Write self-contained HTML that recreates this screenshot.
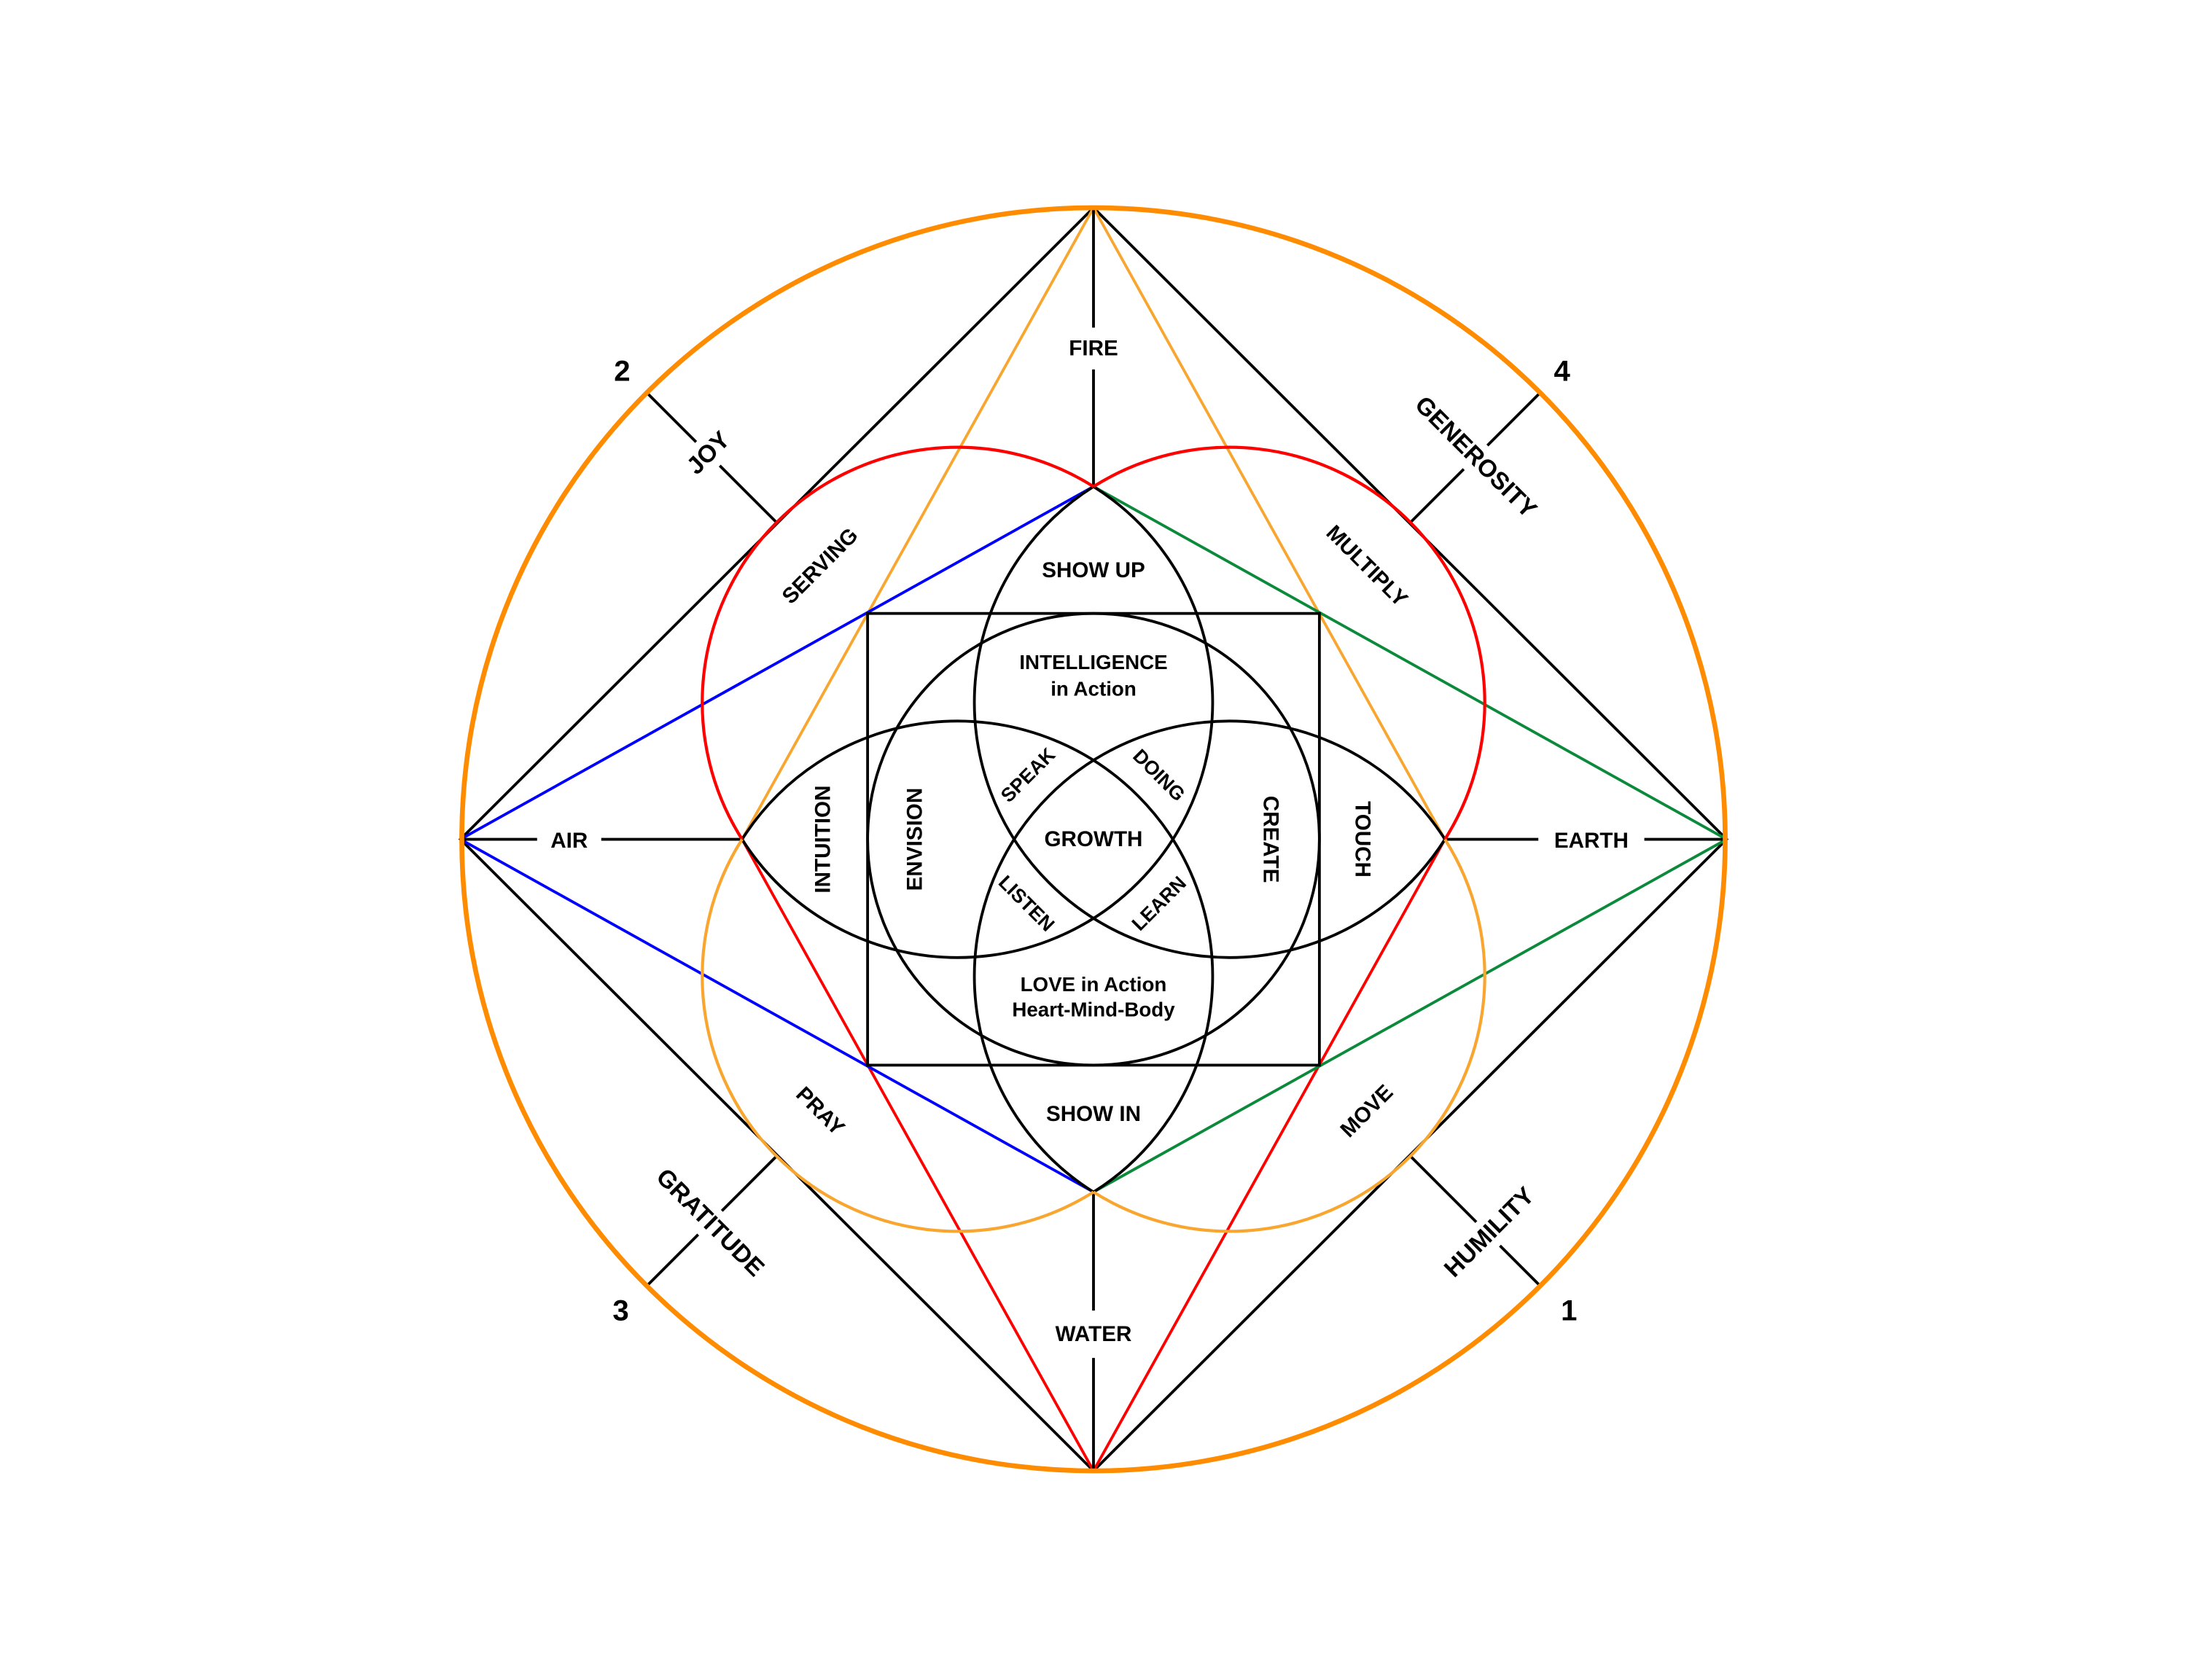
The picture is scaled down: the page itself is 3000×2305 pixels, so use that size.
<!DOCTYPE html>
<html><head><meta charset="utf-8"><style>
html,body{margin:0;padding:0;background:#fff;}
svg{display:block;}
text{font-family:"Liberation Sans",sans-serif;font-weight:bold;fill:#000;text-anchor:middle;dominant-baseline:central;}
</style></head><body>
<svg width="3000" height="2305" viewBox="0 0 1568 1205" xmlns="http://www.w3.org/2000/svg">
<rect width="1568" height="1205" fill="#fff"/>
<g fill="none" stroke-width="2">
<polygon points="784,149 1238,602 784,1055 330,602" stroke="#000"/>
<line x1="784" y1="149" x2="532" y2="602" stroke="#F9A630"/>
<line x1="784" y1="149" x2="1036" y2="602" stroke="#F9A630"/>
<line x1="784" y1="1055" x2="532" y2="602" stroke="#F00"/>
<line x1="784" y1="1055" x2="1036" y2="602" stroke="#F00"/>
<line x1="330" y1="602" x2="784" y2="349" stroke="#00F"/>
<line x1="330" y1="602" x2="784" y2="855" stroke="#00F"/>
<line x1="1238" y1="602" x2="784" y2="349" stroke="#0A8A3A"/>
<line x1="1238" y1="602" x2="784" y2="855" stroke="#0A8A3A"/>
<line x1="784" y1="149" x2="784" y2="235" stroke="#000"/>
<line x1="784" y1="265" x2="784" y2="349" stroke="#000"/>
<line x1="784" y1="855" x2="784" y2="940" stroke="#000"/>
<line x1="784" y1="974" x2="784" y2="1055" stroke="#000"/>
<line x1="330" y1="602" x2="385" y2="602" stroke="#000"/>
<line x1="431" y1="602" x2="532" y2="602" stroke="#000"/>
<line x1="1036" y1="602" x2="1103" y2="602" stroke="#000"/>
<line x1="1179" y1="602" x2="1238" y2="602" stroke="#000"/>
<line x1="464" y1="282" x2="557" y2="375" stroke="#000"/>
<line x1="1104" y1="282" x2="1011" y2="375" stroke="#000"/>
<line x1="464" y1="922" x2="557" y2="829" stroke="#000"/>
<line x1="1104" y1="922" x2="1011" y2="829" stroke="#000"/>
<rect x="622" y="440" width="324" height="324" stroke="#000"/>
<circle cx="784" cy="602" r="162" stroke="#000"/>
<path d="M784,349 A183,183 0 1 1 532,602" stroke="#000"/>
<path d="M1036,602 A183,183 0 1 1 784,349" stroke="#000"/>
<path d="M532,602 A183,183 0 1 1 784,855" stroke="#000"/>
<path d="M784,855 A183,183 0 1 1 1036,602" stroke="#000"/>
<path d="M532,602 A183,183 0 0 1 784,349" stroke="#F00" stroke-width="2.2"/>
<path d="M784,349 A183,183 0 0 1 1036,602" stroke="#F00" stroke-width="2.2"/>
<path d="M784,855 A183,183 0 0 1 532,602" stroke="#F9A630" stroke-width="2.2"/>
<path d="M1036,602 A183,183 0 0 1 784,855" stroke="#F9A630" stroke-width="2.2"/>
<circle cx="784" cy="602" r="453" stroke="#FF8C00" stroke-width="3.5"/>
</g>
<g font-size="15.5">
<text x="784" y="250">FIRE</text>
<text x="408" y="603">AIR</text>
<text x="1141" y="603">EARTH</text>
<text x="784" y="957">WATER</text>
<rect x="480" y="313" width="56" height="24" fill="#fff" transform="rotate(-45 508 325)"/>
<text x="508" y="325" font-size="17.5" transform="rotate(-45 508 325)">JOY</text>
<rect x="1000" y="316" width="116" height="24" fill="#fff" transform="rotate(45 1058 328)"/>
<text x="1058" y="328" font-size="17.5" transform="rotate(45 1058 328)">GENEROSITY</text>
<rect x="454" y="865" width="110" height="24" fill="#fff" transform="rotate(45 509 877)"/>
<text x="509" y="877" font-size="17.5" transform="rotate(45 509 877)">GRATITUDE</text>
<rect x="1018" y="872" width="100" height="24" fill="#fff" transform="rotate(-45 1068 884)"/>
<text x="1068" y="884" font-size="17.5" transform="rotate(-45 1068 884)">HUMILITY</text>
<text x="446" y="266" font-size="21">2</text>
<text x="1120" y="266" font-size="21">4</text>
<text x="445" y="940" font-size="21">3</text>
<text x="1125" y="940" font-size="21">1</text>
<text x="588" y="406" transform="rotate(-45 588 406)">SERVING</text>
<text x="980" y="406" transform="rotate(45 980 406)">MULTIPLY</text>
<text x="588" y="797" transform="rotate(45 588 797)">PRAY</text>
<text x="980" y="797" transform="rotate(-45 980 797)">MOVE</text>
<text x="784" y="409">SHOW UP</text>
<text x="784" y="799">SHOW IN</text>
<text x="784" y="475" font-size="14.5">INTELLIGENCE</text>
<text x="784" y="494" font-size="14.5">in Action</text>
<text x="784" y="706" font-size="14.5">LOVE in Action</text>
<text x="784" y="724" font-size="14.5">Heart-Mind-Body</text>
<text x="590" y="602" transform="rotate(-90 590 602)">INTUITION</text>
<text x="656" y="602" transform="rotate(-90 656 602)">ENVISION</text>
<text x="911" y="602" transform="rotate(90 911 602)">CREATE</text>
<text x="977" y="602" transform="rotate(90 977 602)">TOUCH</text>
<text x="737" y="556" font-size="14" transform="rotate(-45 737 556)">SPEAK</text>
<text x="831" y="556" font-size="14" transform="rotate(45 831 556)">DOING</text>
<text x="736" y="648" font-size="14" transform="rotate(45 736 648)">LISTEN</text>
<text x="831" y="648" font-size="14" transform="rotate(-45 831 648)">LEARN</text>
<text x="784" y="602">GROWTH</text>
</g>
</svg>
</body></html>
